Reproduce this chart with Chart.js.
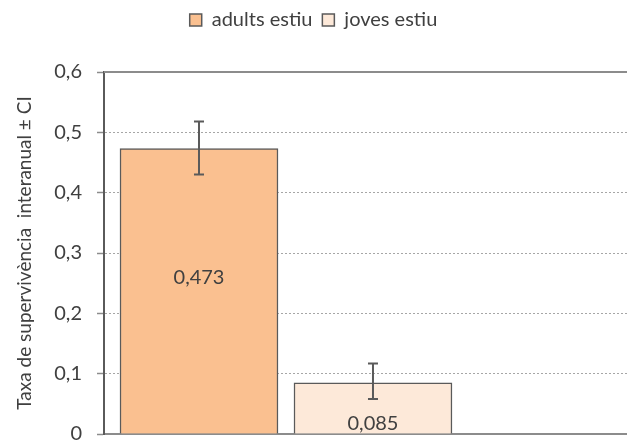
<!DOCTYPE html>
<html>
<head>
<meta charset="utf-8">
<script src="https://cdn.jsdelivr.net/npm/chart.js@4/dist/chart.umd.min.js"></script>
<style>
  html, body { margin: 0; padding: 0; background: #fff; overflow: hidden; }
</style>
</head>
<body>
<canvas id="grafico" width="627" height="441"></canvas>
<script>
// series (one bar each)
var series = ['adults estiu', 'joves estiu'];
var taxa = [0.473, 0.085];
var ciInf = [0.430, 0.058];
var ciSup = [0.518, 0.117];
var etiquetes = ['0,473', '0,085'];
var colors = ['#FAC090', '#FDE9D9'];
var yTicks = [0, 0.1, 0.2, 0.3, 0.4, 0.5, 0.6];

var fontFamily = 'Lato, "Open Sans", sans-serif';
var textColor = '#404040';

// error bars, data labels and the plot frame top line
var extres = {
	id: 'extres',
	afterDatasetsDraw: function(chart, args, opts) {
		var ctx = chart.ctx;
		var y = chart.scales.y;
		var area = chart.chartArea;

		ctx.save();
		ctx.strokeStyle = '#8c8c8c';
		ctx.lineWidth = 2;
		ctx.beginPath();
		ctx.moveTo(area.left, area.top);
		ctx.lineTo(area.right, area.top);
		ctx.stroke();

		series.forEach(function(nom, i) {
			var bar = chart.getDatasetMeta(i).data[0];
			var x = bar.x;

			// label
			ctx.fillStyle = textColor;
			ctx.font = '20px ' + fontFamily;
			ctx.textAlign = 'center';
			ctx.textBaseline = 'middle';
			var mig = (bar.y + bar.base) / 2 + opts.desplacament[i];
			ctx.fillText(etiquetes[i], x, mig);

			// error bar
			var yA = y.getPixelForValue(ciSup[i]);
			var yB = y.getPixelForValue(ciInf[i]);
			ctx.strokeStyle = '#5a5a5a';
			ctx.lineWidth = 2;
			ctx.beginPath();
			ctx.moveTo(x, yA); ctx.lineTo(x, yB);
			ctx.moveTo(x - 5, yA); ctx.lineTo(x + 5, yA);
			ctx.moveTo(x - 5, yB); ctx.lineTo(x + 5, yB);
			ctx.stroke();
		});
		ctx.restore();
	}
};

var alcadaLlegenda = {
	id: 'alcadaLlegenda',
	beforeInit: function(chart) {
		var fit = chart.legend.fit;
		chart.legend.fit = function() {
			fit.bind(chart.legend)();
			this.height = 72;
		};
	}
};

var datasets = series.map(function(nom, i) {
	return {
		label: nom,
		data: [{ x: i, y: taxa[i] }],
		backgroundColor: colors[i],
		borderColor: '#5a5a5a',
		borderWidth: 1.5,
		borderSkipped: 'bottom',
		barThickness: 158,
		grouped: false
	};
});

new Chart(document.getElementById('grafico').getContext('2d'), {
	type: 'bar',
	data: { datasets: datasets },
	options: {
		responsive: false,
		animation: false,
		layout: { padding: 0 },
		plugins: {
			legend: {
				position: 'top',
				labels: {
					color: textColor,
					font: { family: fontFamily, size: 20 },
					boxWidth: 12,
					boxHeight: 12,
					padding: 10
				}
			},
			tooltip: { enabled: false },
			extres: { desplacament: [-14, 15] }
		},
		scales: {
			x: {
				type: 'linear',
				min: -0.546,
				max: 2.46,
				offset: false,
				ticks: { display: false },
				grid: { display: false },
				border: { display: true, color: '#8c8c8c', width: 2 },
				afterFit: function(scale) { scale.height = 7; }
			},
			y: {
				min: 0,
				max: 0.6,
				afterBuildTicks: function(scale) {
					scale.ticks = yTicks.map(function(v) { return { value: v }; });
				},
				ticks: {
					color: textColor,
					font: { family: fontFamily, size: 20 },
					padding: 15,
					callback: function(v) {
						return v === 0 ? '0' : v.toFixed(1).replace('.', ',');
					}
				},
				grid: {
					color: '#a6a6a6',
					lineWidth: 1,
					tickLength: 7,
					tickColor: '#8c8c8c',
					tickWidth: 1.5
				},
				border: { display: true, color: '#5a5a5a', width: 2, dash: [2, 2] },
				title: {
					display: true,
					text: 'Taxa de supervivència  interanual ± CI',
					color: textColor,
					font: { family: fontFamily, size: 19 },
					padding: { top: 13, bottom: 0 }
				},
				afterFit: function(scale) {
					scale.width = 104;
					scale.paddingTop = 5;
					scale.paddingBottom = 5;
				}
			}
		}
	},
	plugins: [extres, alcadaLlegenda]
});
</script>
</body>
</html>
